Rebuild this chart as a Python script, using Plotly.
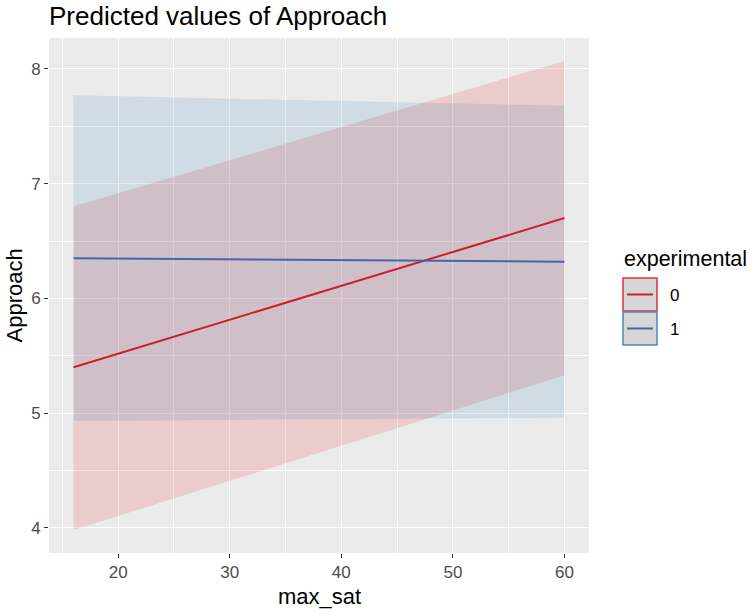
import plotly.graph_objects as go

# ---- data ----
max_sat = [16, 60]
groups = ["0", "1"]
fit_0 = [5.40, 6.70]
lo_0 = [3.98, 5.33]
hi_0 = [6.80, 8.07]
fit_1 = [6.35, 6.32]
lo_1 = [4.93, 4.96]
hi_1 = [7.77, 7.68]

x_ticks = [20, 30, 40, 50, 60]
y_ticks = [4, 5, 6, 7, 8]

line_colors = {"0": "#CC1F2F", "1": "#4565A8"}
fill_colors = {"0": "rgba(228,26,28,0.15)", "1": "rgba(55,126,184,0.15)"}
border_colors = {"0": "#E0303A", "1": "#4A86C0"}

series = {"0": (fit_0, lo_0, hi_0), "1": (fit_1, lo_1, hi_1)}

fig = go.Figure()
for g in groups:
    fit, lo, hi = series[g]
    fig.add_trace(go.Scatter(
        x=max_sat + max_sat[::-1], y=hi + lo[::-1],
        fill="toself", fillcolor=fill_colors[g], line=dict(width=0),
        mode="lines", hoverinfo="skip", showlegend=False))
for g in groups:
    fit, lo, hi = series[g]
    fig.add_trace(go.Scatter(
        x=max_sat, y=fit, mode="lines", name=g,
        line=dict(color=line_colors[g], width=2), showlegend=False))

W, H = 751, 615
L, T = 49, 38
R, B = W - 589, H - 553
pw, ph = W - L - R, H - T - B

def px(x):  # pixel x -> paper
    return (x - L) / pw

def py(y):  # pixel y -> paper
    return (H - B - y) / ph

FONT = "Liberation Sans, Arial"
shapes = []
annotations = []
# legend (custom, ggplot-like keys)
annotations.append(dict(text="experimental", x=px(622), y=py(259), xref="paper", yref="paper",
                        xanchor="left", yanchor="middle", showarrow=False,
                        font=dict(size=21.5, color="black", family=FONT)))
key_tops = {"0": 278, "1": 312}
for g in groups:
    t = key_tops[g]
    shapes.append(dict(type="rect", xref="paper", yref="paper",
                       x0=px(623), x1=px(657), y0=py(t + 33), y1=py(t),
                       fillcolor="#D6D6D6", line=dict(color=border_colors[g], width=1.5)))
    shapes.append(dict(type="line", xref="paper", yref="paper",
                       x0=px(627), x1=px(653), y0=py(t + 16.5), y1=py(t + 16.5),
                       line=dict(color=line_colors[g], width=2)))
    annotations.append(dict(text=g, x=px(668), y=py(t + 17), xref="paper", yref="paper",
                            xanchor="left", yanchor="middle", showarrow=False,
                            font=dict(size=17, color="black", family=FONT)))
# axis titles
annotations.append(dict(text="max_sat", x=0.5, y=py(596), xref="paper", yref="paper",
                        xanchor="center", yanchor="middle", showarrow=False,
                        font=dict(size=22, color="black", family=FONT)))
annotations.append(dict(text="Approach", x=px(14), y=0.5, xref="paper", yref="paper",
                        xanchor="center", yanchor="middle", showarrow=False, textangle=-90,
                        font=dict(size=22, color="black", family=FONT)))

fig.update_layout(
    width=W, height=H,
    margin=dict(l=L, r=R, t=T, b=B, autoexpand=False),
    paper_bgcolor="white", plot_bgcolor="#EBEBEB",
    font=dict(family=FONT, color="#4D4D4D"),
    title=dict(text="Predicted values of Approach", x=49 / W, xanchor="left", xref="container",
               y=1 - 15.5 / H, yanchor="middle", yref="container", pad=dict(l=0, r=0, t=0, b=0),
               font=dict(size=26, color="black", family=FONT)),
    shapes=shapes, annotations=annotations, showlegend=False,
)
fig.update_xaxes(range=[13.8, 62.2], tickvals=x_ticks, ticks="outside", ticklen=4,
                 tickcolor="#333333", tickwidth=1.2, showgrid=True, gridcolor="white",
                 gridwidth=1.4, zeroline=False, showline=False, automargin=False,
                 tickfont=dict(size=17, color="#4D4D4D"),
                 minor=dict(dtick=5, tick0=0, showgrid=True, gridcolor="white", gridwidth=0.6, ticks=""))
fig.update_yaxes(range=[3.78, 8.27], tickvals=y_ticks, ticks="outside", ticklen=4,
                 tickcolor="#333333", tickwidth=1.2, showgrid=True, gridcolor="white",
                 gridwidth=1.4, zeroline=False, showline=False, automargin=False,
                 tickfont=dict(size=17, color="#4D4D4D"),
                 minor=dict(dtick=0.5, tick0=0, showgrid=True, gridcolor="white", gridwidth=0.6, ticks=""))

fig.write_html("out.html", config={"displayModeBar": False},
               post_script="document.body.style.margin='0';document.body.style.overflow='hidden';")
